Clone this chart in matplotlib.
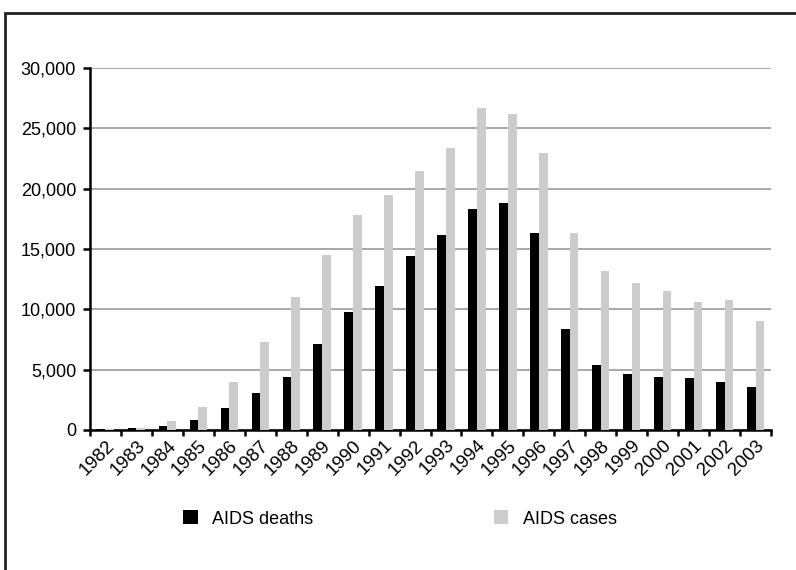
import matplotlib
matplotlib.use("Agg")
import matplotlib.pyplot as plt
import numpy as np
from matplotlib.patches import Rectangle

plt.rcParams["font.family"] = ["Liberation Sans", "DejaVu Sans"]

years = [str(y) for y in range(1982, 2004)]
deaths = [100, 150, 300, 850, 1800, 3100, 4400, 7100, 9800, 11900, 14400,
          16200, 18350, 18850, 16350, 8400, 5400, 4600, 4400, 4300, 4000, 3600]
cases = [50, 200, 750, 1900, 3950, 7300, 11000, 14500, 17800, 19500, 21500,
         23400, 26700, 26150, 22950, 16350, 13200, 12200, 11500, 10600, 10800, 9000]

fig = plt.figure(figsize=(7.96, 5.70), dpi=100)
ax = fig.add_axes([90 / 796, 1 - 430 / 570, 681 / 796, 362 / 570])

x = np.arange(len(years))
w = 0.28
ax.bar(x - w / 2, deaths, width=w, color="black", label="AIDS deaths", zorder=3)
ax.bar(x + w / 2, cases, width=w, color="#cccccc", label="AIDS cases", zorder=3)

ax.set_xlim(-0.5, len(years) - 0.5)
ax.set_ylim(0, 30000)
ax.set_yticks(range(0, 30001, 5000))
ax.set_yticklabels([f"{v:,}" for v in range(0, 30001, 5000)], fontsize=13)
ax.yaxis.grid(True, color="#999999", linewidth=1.2, zorder=0)

ax.set_xticks(x)
ax.set_xticklabels(years, rotation=45, ha="right", rotation_mode="anchor", fontsize=13.5)
ax.set_xticks(np.arange(-0.5, len(years)), minor=True)
ax.tick_params(axis="x", which="major", length=0, pad=5)
ax.tick_params(axis="x", which="minor", length=4, width=1.8, direction="out")
ax.tick_params(axis="y", length=5, width=1.8, direction="out", pad=5)

for side in ("top", "right"):
    ax.spines[side].set_visible(False)
for side in ("left", "bottom"):
    ax.spines[side].set_linewidth(1.8)

fig.legend(loc="center", bbox_to_anchor=(400 / 796, 1 - 519 / 570), ncol=2,
           frameon=False, fontsize=13, columnspacing=10.0, handlelength=0.8,
           handleheight=0.8, handletextpad=0.8)

fig.patches.append(Rectangle((5 / 796, -0.1), 1.2, 1 - 13 / 570 + 0.1,
                             transform=fig.transFigure, fill=False,
                             edgecolor="#222222", linewidth=2))

fig.savefig("out.png", dpi=100)
